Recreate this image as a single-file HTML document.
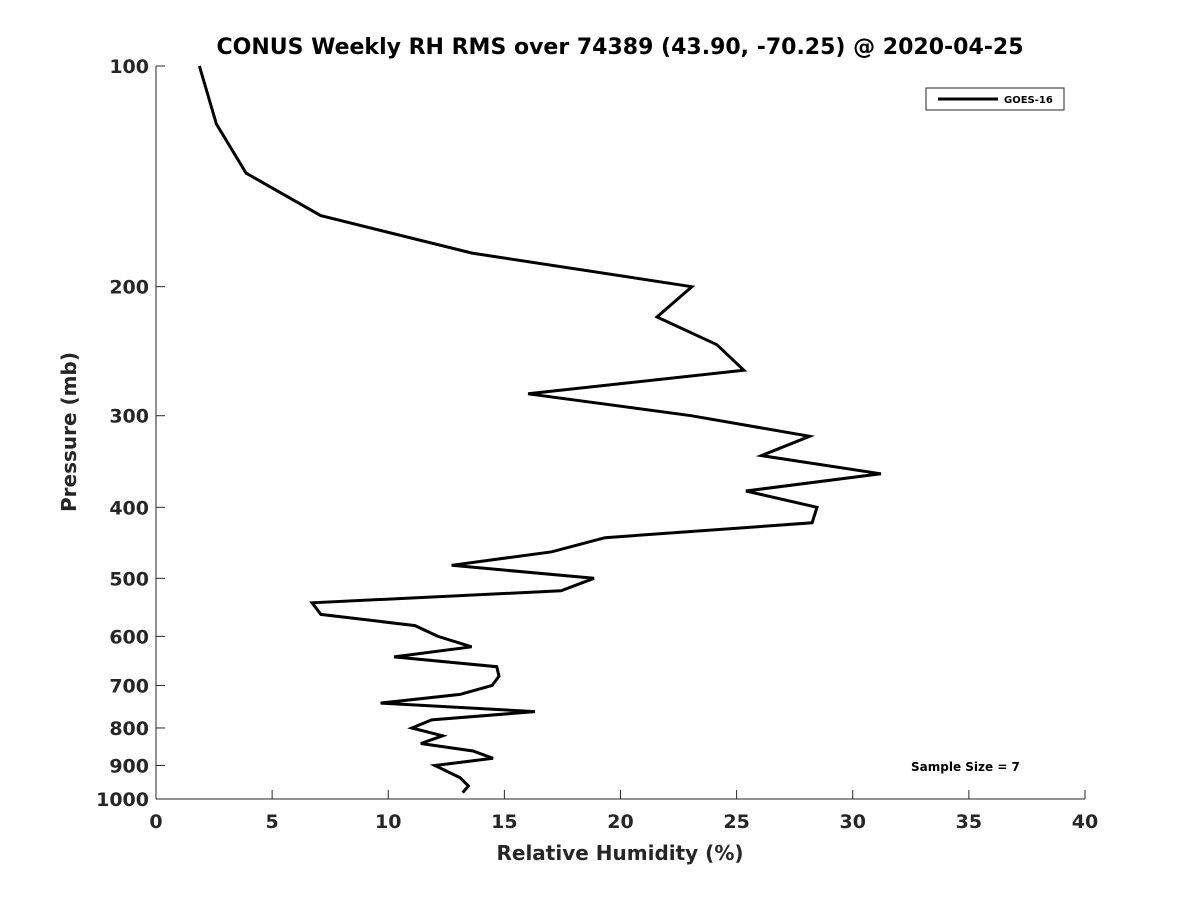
<!DOCTYPE html>
<html><head><meta charset="utf-8"><style>
html,body{margin:0;padding:0;background:#fff;}
svg{display:block;font-family:"DejaVu Sans","Liberation Sans",sans-serif;}
</style></head><body>
<svg id="chart" width="1200" height="900" viewBox="0 0 1200 900">
<text x="620" y="54" text-anchor="middle" font-size="22" font-weight="bold" fill="#000">CONUS Weekly RH RMS over 74389 (43.90, -70.25) @ 2020-04-25</text>
<g id="axes"></g>
<text x="620" y="860" text-anchor="middle" font-size="20" font-weight="bold" fill="#262626">Relative Humidity (%)</text>
<text transform="translate(76,432) rotate(-90)" text-anchor="middle" font-size="20" font-weight="bold" fill="#262626">Pressure (mb)</text>
<g id="plot"></g>
<g>
<rect x="926" y="88" width="138" height="22" fill="#fff" stroke="#262626" stroke-width="1"/>
<line x1="938" y1="99" x2="998" y2="99" stroke="#000" stroke-width="3"/>
<text x="1004" y="103" font-size="10" font-weight="bold" fill="#000">GOES-16</text>
</g>
<text x="911" y="771" font-size="12" font-weight="bold" fill="#000">Sample Size = 7</text>
</svg>
<script>
const pressures = [100,120,140,160,180,200,220,240,260,280,300,320,340,360,380,400,420,440,460,480,500,520,540,560,580,600,620,640,660,680,700,720,740,760,780,800,820,840,860,880,900,935,960,980];
const rhValues = [1.87,2.60,3.88,7.09,13.61,23.07,21.57,24.15,25.31,16.02,23.04,28.14,26.07,31.21,25.40,28.46,28.25,19.33,17.04,12.73,18.86,17.44,6.72,7.10,11.15,12.14,13.59,10.25,14.67,14.77,14.47,13.09,9.67,16.32,11.87,11.02,12.34,11.40,13.65,14.51,12.01,13.09,13.45,13.20];
const xTicks = [0,5,10,15,20,25,30,35,40];
const yTicks = [100,200,300,400,500,600,700,800,900,1000];

const NS = "http://www.w3.org/2000/svg";
const X0 = 156, X1 = 1085, Y0 = 66, Y1 = 799;
const xScale = v => X0 + (v - 0) / 40 * (X1 - X0);
const yScale = p => Y0 + Math.log10(p / 100) * (Y1 - Y0);
function mk(tag, attrs, parent) {
  const e = document.createElementNS(NS, tag);
  for (const k in attrs) e.setAttribute(k, attrs[k]);
  parent.appendChild(e);
  return e;
}
const axes = document.getElementById('axes');
const plot = document.getElementById('plot');
let el = mk('line', {x1: X0, y1: Y0, x2: X0, y2: Y1, stroke: '#262626', 'stroke-width': 1}, axes);


el = mk('line', {x1: X0, y1: Y1, x2: X1, y2: Y1, stroke: '#262626', 'stroke-width': 1}, axes);


xTicks.forEach(t => {
  const x = xScale(t);
  const tk = mk('line', {x1: x, y1: Y1, x2: x, y2: Y1 - 9, stroke: '#262626', 'stroke-width': 1}, axes);
  
  
  const lb = mk('text', {x: x, y: Y1 + 29, 'text-anchor': 'middle', 'font-size': 19, 'font-weight': 'bold', fill: '#262626'}, axes);
  lb.textContent = t;
  
  
});
yTicks.forEach(t => {
  const y = yScale(t);
  const tk = mk('line', {x1: X0, y1: y, x2: X0 + 9, y2: y, stroke: '#262626', 'stroke-width': 1}, axes);
  
  
  const lb = mk('text', {x: X0 - 7, y: y + 7, 'text-anchor': 'end', 'font-size': 19, 'font-weight': 'bold', fill: '#262626'}, axes);
  lb.textContent = t;
  
  
});
const pts = pressures.map((p, i) => xScale(rhValues[i]).toFixed(1) + ',' + yScale(p).toFixed(1)).join(' ');
const line = mk('polyline', {points: pts, fill: 'none', stroke: '#000', 'stroke-width': 3, 'stroke-linejoin': 'miter'}, plot);


</script>
</body></html>
